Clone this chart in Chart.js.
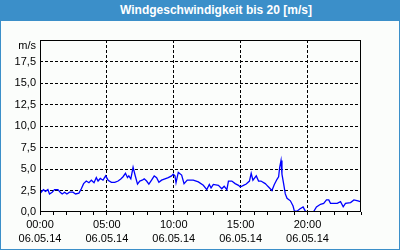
<!DOCTYPE html>
<html><head><meta charset="utf-8">
<script src="https://cdn.jsdelivr.net/npm/chart.js@4.4.1/dist/chart.umd.min.js"></script>
<style>
html,body{margin:0;padding:0;background:#fbfdfb;}
#wrap{position:relative;width:400px;height:250px;background:#fbfdfb;overflow:hidden}
#title{position:absolute;left:0;top:0;width:400px;height:21px;background:#3b8fc9;color:#fff;font:bold 12px "Liberation Sans",Arial,sans-serif;line-height:21px;text-align:center;box-sizing:border-box;padding-left:32px;z-index:2}
#edge{position:absolute;left:0;top:0;width:400px;height:250px;box-sizing:border-box;border:1px solid #3b8fc9;z-index:3;pointer-events:none}
#cv{position:absolute;left:0;top:0}
</style></head>
<body>
<div id="wrap">
<div id="title">Windgeschwindigkeit bis 20 [m/s]</div>
<canvas id="cv" width="400" height="250"></canvas>
<div id="edge"></div>
</div>
<script>
// time of day in hours (06.05.14)
const hours = [0.00,0.09,0.26,0.41,0.59,0.71,0.91,1.09,1.34,1.51,1.66,1.84,2.01,2.21,2.46,2.66,2.91,3.09,3.26,3.46,3.66,3.84,4.04,4.21,4.34,4.51,4.71,4.91,5.09,5.34,5.59,5.84,6.04,6.21,6.39,6.54,6.64,6.79,6.96,7.14,7.29,7.46,7.64,7.79,7.97,8.14,8.34,8.54,8.72,8.89,9.09,9.34,9.59,9.84,9.96,10.09,10.17,10.34,10.59,10.77,11.01,11.46,11.84,12.21,12.47,12.66,12.79,12.96,13.34,13.59,13.77,13.97,14.09,14.34,14.59,14.84,14.97,15.21,15.42,15.66,15.79,15.92,16.17,16.34,16.52,16.84,16.97,17.09,17.34,17.52,17.72,17.84,17.92,18.02,18.09,18.22,18.34,18.47,18.72,18.92,19.02,19.22,19.42,19.67,19.84,20.00,20.44,20.67,20.97,21.21,21.42,21.59,21.72,22.22,22.47,22.67,22.84,23.22,23.47,23.77,23.95];
// wind speed in m/s
const speeds = [2.7,2.3,2.6,2.4,2.6,2.1,2.3,2.6,2.6,2.3,2.1,2.3,2.1,2.3,2.3,2.1,2.2,2.7,3.3,3.6,3.4,3.7,3.4,4.0,3.6,3.9,3.7,4.2,3.7,3.45,3.45,3.6,3.85,4.1,4.5,4.0,4.2,3.85,5.2,4.1,3.25,3.6,3.7,3.85,3.6,3.25,3.7,4.2,4.0,3.45,3.7,3.85,4.0,4.2,4.4,4.2,3.4,4.6,4.3,3.3,3.7,3.7,3.5,3.1,2.6,3.2,2.8,3.2,3.1,2.7,3.0,2.6,3.6,3.6,3.3,3.1,2.9,3.1,3.25,3.6,4.5,3.7,4.2,3.6,3.6,3.3,3.1,2.9,2.5,3.2,3.8,4.1,5.2,6.0,4.4,3.25,2.1,1.6,1.3,0.7,0.1,0.1,0.35,0.6,0.1,0.0,0.0,0.6,0.9,1.0,1.4,1.4,1.0,1.0,1.2,0.6,1.0,1.1,1.4,1.3,1.2];

const hourLabels = ['00:00','05:00','10:00','15:00','20:00'];
const dateLabel = '06.05.14';
const yUnit = 'm/s';
const yMin = 0, yMax = 20, yStep = 2.5;
const xMin = 0, xMax = 24, xStep = 1, labelEvery = 5;

Chart.defaults.font.family = '"Liberation Sans", Arial, sans-serif';
Chart.defaults.font.size = 11;
Chart.defaults.color = '#000';

const framePlugin = {
  id: 'frame',
  afterDatasetsDraw(c) {
    const {ctx, chartArea: a} = c;
    ctx.save();
    ctx.strokeStyle = '#000';
    ctx.lineWidth = 1;
    ctx.setLineDash([]);
    ctx.strokeRect(a.left + 0.5, a.top + 0.5, a.right - a.left - 1, a.bottom - a.top - 1);
    const ys = c.scales.y;
    ctx.fillStyle = '#000';
    ctx.font = '11px "Liberation Sans", Arial, sans-serif';
    ctx.textAlign = 'right';
    ctx.textBaseline = 'middle';
    ctx.fillText(yUnit, a.left - 4, ys.getPixelForValue(yMax) + 6);
    ctx.restore();
  }
};

new Chart(document.getElementById('cv'), {
  type: 'line',
  data: {
    datasets: [{
      data: hours.map((h, i) => ({x: h, y: speeds[i]})),
      borderColor: '#0000ff',
      borderWidth: 1.3,
      pointRadius: 0,
      tension: 0,
      fill: false,
      clip: 0
    }]
  },
  options: {
    responsive: false,
    animation: false,
    events: [],
    layout: {padding: {top: 40, right: 39, left: 0, bottom: 0}},
    plugins: {legend: {display: false}, tooltip: {enabled: false}, title: {display: false}},
    scales: {
      x: {
        type: 'linear', min: xMin, max: xMax,
        afterFit: s => { s.height = 38; },
        border: {display: false, dash: [3, 2]},
        grid: {
          color: ctx => (ctx.tick && ctx.tick.value % labelEvery === 0 && ctx.tick.value > xMin && ctx.tick.value < xMax) ? '#000' : 'rgba(0,0,0,0)',
          tickColor: '#000', tickLength: 3, lineWidth: 1, drawTicks: true
        },
        ticks: {
          stepSize: xStep, autoSkip: false, maxRotation: 0, minRotation: 0, padding: 2,
          font: {size: 11, lineHeight: 1.36},
          callback: v => (v % labelEvery === 0 && v < xMax) ? [hourLabels[v / labelEvery], dateLabel] : ''
        }
      },
      y: {
        type: 'linear', min: yMin, max: yMax,
        afterFit: s => { s.width = 40; },
        border: {display: false, dash: [3, 2]},
        grid: {
          color: ctx => (ctx.tick && ctx.tick.value > yMin && ctx.tick.value < yMax) ? '#000' : 'rgba(0,0,0,0)',
          drawTicks: false, lineWidth: 1
        },
        ticks: {
          stepSize: yStep, padding: 4,
          callback: v => v === yMax ? '' : v.toFixed(1).replace('.', ',')
        }
      }
    }
  },
  plugins: [framePlugin]
});
</script>
</body></html>
